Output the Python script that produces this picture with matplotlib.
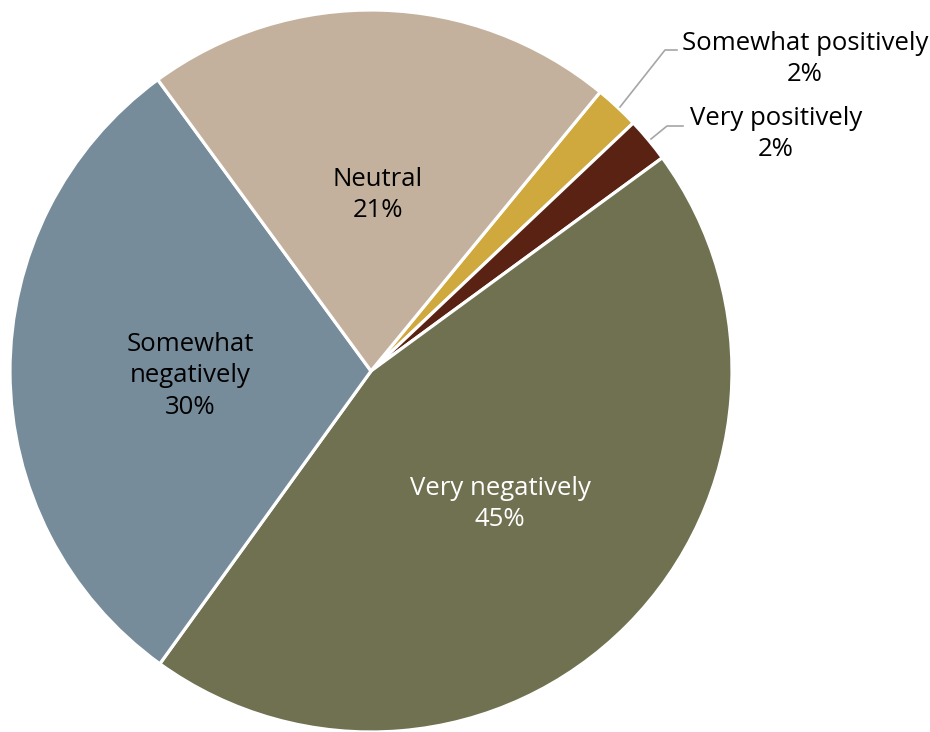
import matplotlib.pyplot as plt

plt.rcParams['font.family'] = ['Open Sans', 'DejaVu Sans']

# slices listed clockwise, starting from the small positive ones
labels = ["Somewhat positively", "Very positively", "Very negatively",
          "Somewhat negatively", "Neutral"]
shares = [2, 2, 45, 30, 21]
colors = ["#CFA83E", "#5A2213", "#6F7150", "#768C9B", "#C4B19D"]

W, H = 930, 732
fig = plt.figure(figsize=(W / 100, H / 100), dpi=100)
ax = fig.add_axes([0, 0, 1, 1])

cx, cy, r = 371, H - 371, 361
ax.pie(shares, colors=colors, startangle=50.6, counterclock=False,
       center=(cx, cy), radius=r, frame=True,
       wedgeprops=dict(edgecolor='white', linewidth=2.3))
ax.set_xlim(0, W)
ax.set_ylim(0, H)
ax.set_aspect('equal')
ax.axis('off')

fs = 18.5
def lbl(x, y, text, color='black'):
    ax.text(x, H - y, text, ha='center', va='center', fontsize=fs,
            color=color, linespacing=1.35)

# inside labels
lbl(378, 195, "Neutral\n%d%%" % shares[4])
lbl(190, 376, "Somewhat\nnegatively\n%d%%" % shares[3])
lbl(500, 504, "Very negatively\n%d%%" % shares[2], color='white')

# outside labels with leader lines
lbl(805, 59, "%s\n%d%%" % (labels[0], shares[0]))
lbl(776, 134, "%s\n%d%%" % (labels[1], shares[1]))
ax.plot([620, 665, 677], [H - 107, H - 50, H - 50], color='#A6A6A6', lw=1.2)
ax.plot([651, 667, 683], [H - 139, H - 126, H - 126], color='#A6A6A6', lw=1.2)

fig.savefig('out.png', dpi=100)
